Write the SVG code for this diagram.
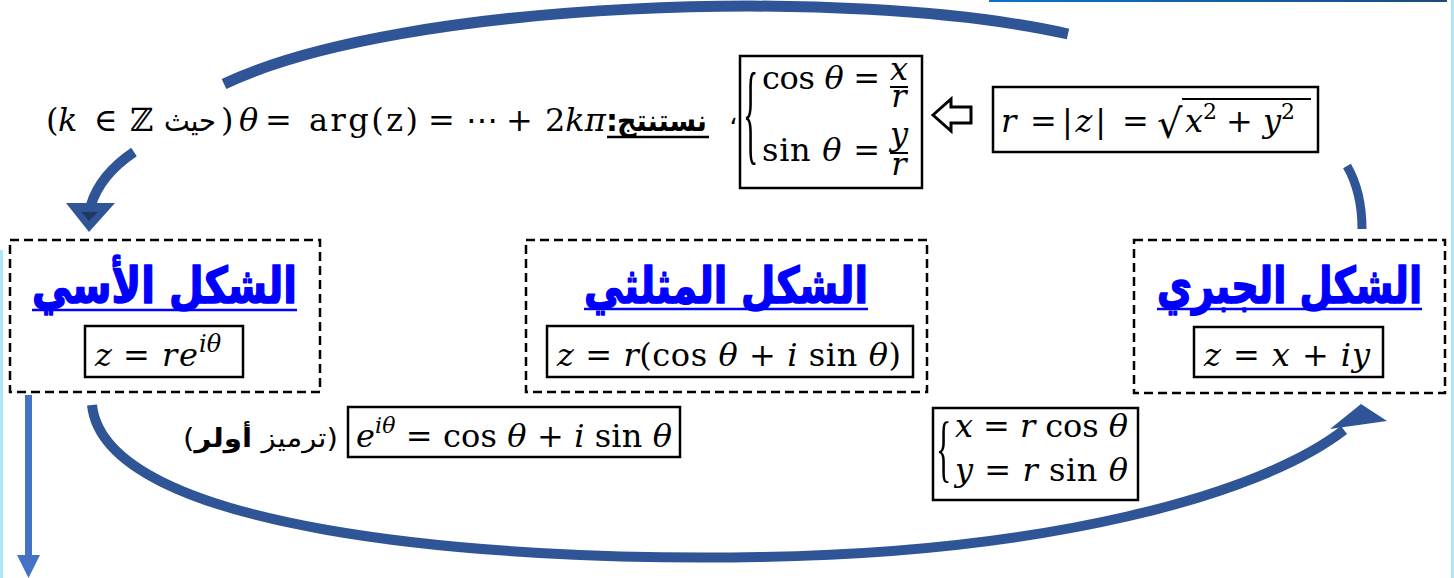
<svg xmlns="http://www.w3.org/2000/svg" width="1454" height="578" viewBox="0 0 1454 578">
<defs>
<linearGradient id="tg" x1="0" x2="1" y1="0" y2="0"><stop offset="0" stop-color="#0a74c8"/><stop offset="1" stop-color="#1c4a80"/></linearGradient>
</defs>
<style>
.m{font-family:"DejaVu Serif",serif;font-size:32px;fill:#000}
.it{font-style:italic}
.br{font-family:"Liberation Serif",serif;font-size:32px;fill:#000}
.ar{font-family:"DejaVu Sans",sans-serif;fill:#000}
.h{font-family:"DejaVu Sans",sans-serif;font-weight:bold;font-size:50px;fill:#0000ff;stroke:#0000ff;stroke-width:1.6;stroke-linejoin:round}
.dash{fill:#fff;stroke:#000;stroke-width:2.5;stroke-dasharray:9 5}
.box{fill:#fff;stroke:#000;stroke-width:2.5}
.arc{fill:none;stroke:#2f5597}
.ah{fill:#2f5597}
.ul{stroke:#0000ff;stroke-width:2.5}
</style>
<rect width="1454" height="578" fill="#fff"/>
<rect x="0" y="250" width="3" height="328" fill="#a9e9f3"/>
<rect x="1451" y="0" width="3" height="578" fill="#a9e9f3"/>
<rect x="989" y="0" width="458" height="2" fill="url(#tg)"/>

<g id="connectors">
<path class="arc" stroke-width="11" d="M 224 84 C 400 0, 850 -15, 1068 34"/>
<path class="arc" stroke-width="10" d="M 134 152 Q 100 175 91 205"/>
<polygon class="ah" points="66,203 115,203 89,232"/>
<polygon fill="#1f3864" points="81,212 98,212 89,221"/>
<path class="arc" stroke-width="9" d="M 1347 166 Q 1362 192 1362 229"/>
<path class="arc" stroke-width="10" d="M 92 405 C 105 530, 480 562, 760 557 C 1050 552, 1260 495, 1344 430"/>
<polygon class="ah" points="1330,429 1361,404 1387,421"/>
<rect x="25" y="395" width="7" height="160" fill="#4472c4"/>
<polygon fill="#4472c4" points="17,555 40,555 28.5,578"/>
<polygon fill="#fff" stroke="#000" stroke-width="3" points="933,115 951,99 951,107 971,107 971,123 951,123 951,131"/>
</g>

<g id="top-line">
<text class="m" y="131"><tspan x="46">(</tspan><tspan x="58" class="it">k</tspan><tspan x="94">∈</tspan><tspan x="130">ℤ</tspan></text>
<text class="ar" font-size="30" x="190" y="131" text-anchor="middle" textLength="52" lengthAdjust="spacingAndGlyphs">حيث</text>
<text class="m" x="221" y="131">)</text>
<text class="m" y="131"><tspan x="239" class="it">θ</tspan><tspan x="265">=</tspan></text>
<text class="m" x="309" y="131" textLength="109" lengthAdjust="spacing">arg(z)</text>
<text class="m" y="131"><tspan x="428">=</tspan><tspan x="466">⋯</tspan><tspan x="506">+</tspan><tspan x="545">2</tspan><tspan class="it">kπ</tspan></text>
<text class="ar" font-size="30" font-weight="bold" x="606" y="131">:</text>
<text class="ar" font-size="30" font-weight="bold" x="662" y="131" text-anchor="middle" textLength="90" lengthAdjust="spacingAndGlyphs">نستنتج</text>
<line x1="607" y1="137" x2="709" y2="137" stroke="#000" stroke-width="2.5"/>
<text class="ar" font-size="26" x="729" y="124">،</text>
</g>

<g id="polar-eq">
<rect class="box" x="740" y="56" width="182" height="132"/>
<text class="br" transform="translate(743,122) scale(1,3.5)" y="8">{</text>
<text class="m" x="762" y="89" textLength="118" lengthAdjust="spacing">cos <tspan class="it">θ</tspan> =</text>
<text class="m it" font-size="20" x="899" y="80" text-anchor="middle">x</text>
<line x1="890" y1="87" x2="908" y2="87" stroke="#000" stroke-width="2"/>
<text class="m it" font-size="20" x="899" y="107" text-anchor="middle">r</text>
<text class="m" x="762" y="161" textLength="118" lengthAdjust="spacing">sin <tspan class="it">θ</tspan> =</text>
<text class="m it" font-size="20" x="899" y="145" text-anchor="middle">y</text>
<line x1="890" y1="153" x2="908" y2="153" stroke="#000" stroke-width="2"/>
<text class="m it" font-size="20" x="899" y="175" text-anchor="middle">r</text>
</g>

<g id="modulus">
<rect class="box" x="993" y="87" width="325" height="65"/>
<text class="m" y="132"><tspan x="1001" class="it">r</tspan><tspan x="1030">=</tspan></text>
<text class="m" x="1062" y="132" textLength="44" lengthAdjust="spacing">|<tspan class="it">z</tspan>|</text>
<text class="m" y="132"><tspan x="1122">=</tspan><tspan x="1157" font-size="40" dy="6">√</tspan><tspan x="1185" class="it" dy="-6">x</tspan><tspan font-size="22" dy="-13">2</tspan><tspan x="1226" dy="13">+</tspan><tspan x="1263" class="it">y</tspan><tspan font-size="22" dy="-13">2</tspan></text>
<line x1="1182" y1="99" x2="1311" y2="99" stroke="#000" stroke-width="2"/>
</g>

<g id="exp-form">
<rect class="dash" x="10" y="240" width="310" height="152"/>
<text class="h" x="164.5" y="303" text-anchor="middle" textLength="265" lengthAdjust="spacingAndGlyphs">الشكل الأسي</text>
<line class="ul" x1="32" y1="310" x2="297" y2="310"/>
<rect class="box" x="85" y="326" width="158" height="51"/>
<text class="m" y="366"><tspan x="95" class="it">z</tspan><tspan x="123">=</tspan><tspan x="162" class="it">r</tspan><tspan x="179" class="it">e</tspan><tspan x="199" class="it" font-size="24" dy="-14">iθ</tspan></text>
</g>

<g id="trig-form">
<rect class="dash" x="526" y="240" width="401" height="152"/>
<text class="h" x="726" y="303" text-anchor="middle" textLength="284" lengthAdjust="spacingAndGlyphs">الشكل المثلثي</text>
<line class="ul" x1="584" y1="309" x2="868" y2="309"/>
<rect class="box" x="547" y="326" width="366" height="51"/>
<text class="m" x="557" y="366" textLength="344" lengthAdjust="spacing"><tspan class="it">z</tspan> = <tspan class="it">r</tspan>(cos <tspan class="it">θ</tspan> + <tspan class="it">i</tspan> sin <tspan class="it">θ</tspan>)</text>
</g>

<g id="alg-form">
<rect class="dash" x="1134" y="240" width="311" height="153"/>
<text class="h" x="1289.5" y="303" text-anchor="middle" textLength="265" lengthAdjust="spacingAndGlyphs">الشكل الجبري</text>
<line class="ul" x1="1157" y1="309" x2="1422" y2="309"/>
<rect class="box" x="1194" y="327" width="189" height="50"/>
<text class="m" x="1204" y="366" textLength="166" lengthAdjust="spacing"><tspan class="it">z</tspan> = <tspan class="it">x</tspan> + <tspan class="it">iy</tspan></text>
</g>

<g id="euler">
<text class="ar" font-size="26" direction="rtl" x="338" y="447" textLength="155" lengthAdjust="spacingAndGlyphs">(ترميز <tspan font-weight="bold">أولر</tspan>)</text>
<rect class="box" x="348" y="407" width="332" height="50"/>
<text class="m" x="356" y="447" textLength="316" lengthAdjust="spacing"><tspan class="it">e</tspan><tspan class="it" font-size="22" dy="-14">iθ</tspan><tspan dy="14"> = cos </tspan><tspan class="it">θ</tspan> + <tspan class="it">i</tspan> sin <tspan class="it">θ</tspan></text>
</g>

<g id="cart-eq">
<rect class="box" x="933" y="408" width="205" height="92"/>
<text class="br" transform="translate(936,455) scale(1,2.3)" y="8">{</text>
<text class="m" x="955" y="437" textLength="173" lengthAdjust="spacing"><tspan class="it">x</tspan> = <tspan class="it">r</tspan> cos <tspan class="it">θ</tspan></text>
<text class="m" x="955" y="481" textLength="173" lengthAdjust="spacing"><tspan class="it">y</tspan> = <tspan class="it">r</tspan> sin <tspan class="it">θ</tspan></text>
</g>
</svg>
